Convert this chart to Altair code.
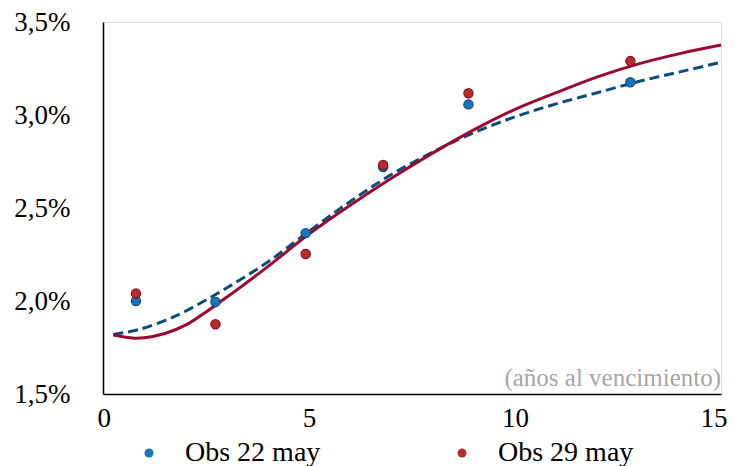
import altair as alt
import pandas as pd

# Observed yields (percent) by years to maturity
obs_x = [0.8, 2.73, 4.92, 6.8, 8.87, 12.8]
obs_22 = [2.00, 1.995, 2.365, 2.72, 3.057, 3.176]
obs_29 = [2.04, 1.875, 2.253, 2.731, 3.117, 3.29]
series_names = ["Obs 22 may", "Obs 29 may"]

# Fitted curves
curve_x = [0.25, 0.75, 1, 1.5, 2, 3, 4, 5, 6, 7, 8, 9, 10, 11, 12, 13, 14, 15]
curve_22 = [1.82, 1.84, 1.855, 1.895, 1.945, 2.07, 2.21, 2.375, 2.535, 2.68, 2.80, 2.905, 2.99, 3.06, 3.12, 3.18, 3.232, 3.283]
curve_29 = [1.817, 1.80, 1.802, 1.825, 1.87, 2.02, 2.185, 2.36, 2.515, 2.66, 2.795, 2.92, 3.03, 3.12, 3.205, 3.275, 3.33, 3.376]

x_ticks = [0, 5, 10, 15]
y_ticks = [1.5, 2.0, 2.5, 3.0, 3.5]
note_text = ["(años al vencimiento)"]
note_x = [15]
note_y = [1.5]

FONT = "Liberation Serif"

obs_df = pd.DataFrame({
    "x": obs_x * 2,
    "y": obs_22 + obs_29,
    "serie": [series_names[0]] * len(obs_x) + [series_names[1]] * len(obs_x),
})
c22 = pd.DataFrame({"x": curve_x, "y": curve_22})
c29 = pd.DataFrame({"x": curve_x, "y": curve_29})
note_df = pd.DataFrame({"x": note_x, "y": note_y, "t": note_text})

xscale = alt.Scale(domain=[0, 15], nice=False)
yscale = alt.Scale(domain=[1.5, 3.5], nice=False, zero=False)

xaxis = alt.Axis(values=x_ticks, title=None, ticks=False, grid=False, labelPadding=11,
                 labelFont=FONT, labelFontSize=27, labelColor="#000000",
                 domainColor="#000000", domainWidth=1.5,
                 labelFlush=True, labelFlushOffset=6)
yaxis = alt.Axis(values=y_ticks, title=None, ticks=False, grid=False, labelPadding=33,
                 labelFont=FONT, labelFontSize=27, labelColor="#000000",
                 domainColor="#000000", domainWidth=1.5,
                 labelExpr="replace(format(datum.value, '.1f'), '.', ',') + '%'")

line22 = alt.Chart(c22).mark_line(color="#0B4C7D", strokeWidth=3, strokeDash=[10, 5],
                                   interpolate="catmull-rom").encode(
    x=alt.X("x:Q", scale=xscale, axis=xaxis),
    y=alt.Y("y:Q", scale=yscale, axis=yaxis),
)
line29 = alt.Chart(c29).mark_line(color="#990A33", strokeWidth=3,
                                   interpolate="catmull-rom").encode(
    x=alt.X("x:Q", scale=xscale),
    y=alt.Y("y:Q", scale=yscale),
)

points = alt.Chart(obs_df).mark_point(filled=True, size=85, opacity=1, strokeWidth=1.2).encode(
    x=alt.X("x:Q", scale=xscale),
    y=alt.Y("y:Q", scale=yscale),
    color=alt.Color("serie:N",
                    scale=alt.Scale(domain=series_names, range=["#1B75BC", "#B3302A"]),
                    legend=alt.Legend(title=None, orient="none", legendX=32, legendY=417,
                                      direction="horizontal", symbolType="circle",
                                      symbolSize=80, labelFont=FONT, labelFontSize=28,
                                      labelColor="#000000", labelOffset=22,
                                      columnPadding=127, symbolStrokeWidth=0)),
    stroke=alt.Stroke("serie:N",
                      scale=alt.Scale(domain=series_names, range=["#0D4A7A", "#8A0A2A"]),
                      legend=None),
)

note = alt.Chart(note_df).mark_text(align="right", baseline="bottom", dy=-3, font=FONT,
                                    fontSize=25, color="#A6A6A6").encode(
    x=alt.X("x:Q", scale=xscale),
    y=alt.Y("y:Q", scale=yscale),
    text="t:N",
)

chart = alt.layer(line22, line29, points, note).properties(
    width=618, height=372,
    padding={"left": 5, "top": 0, "right": 0, "bottom": 0}
).configure_view(stroke=None).configure(background="#FFFFFF").configure_axis(
    labelFont=FONT, labelFontSize=27
).configure_legend(labelFont=FONT)

chart.save("out.html", embed_options={"renderer": "svg", "actions": False})
